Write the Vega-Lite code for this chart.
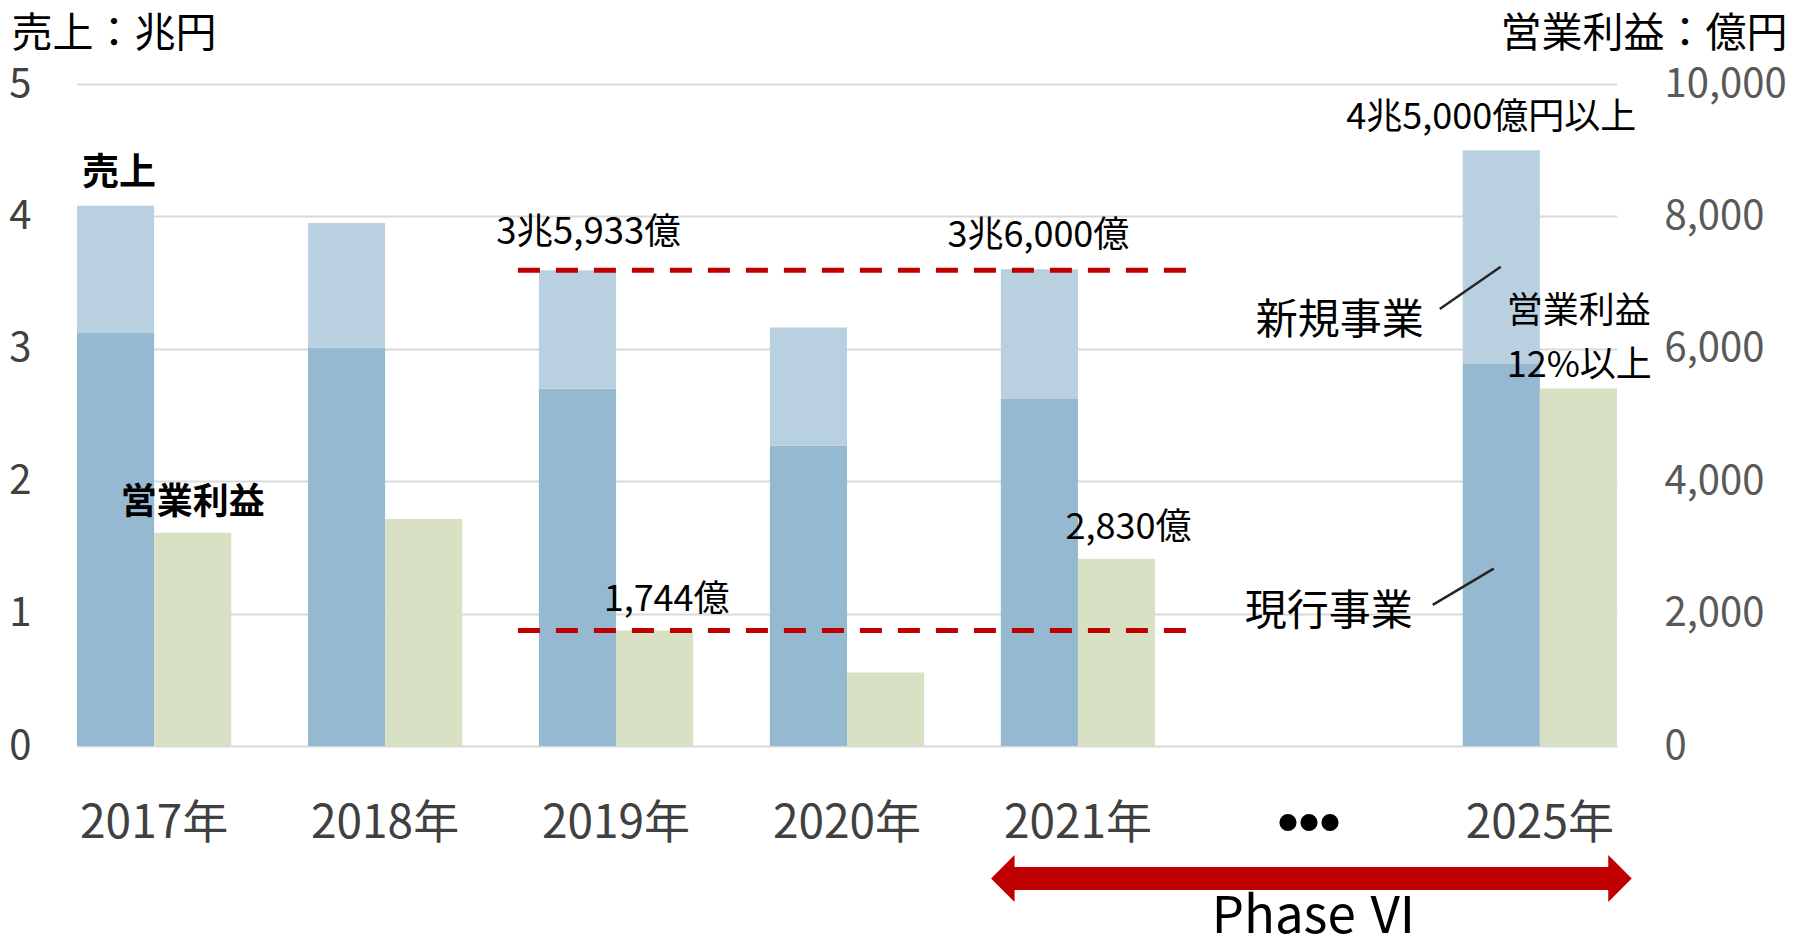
{
  "$schema": "https://vega.github.io/schema/vega-lite/v6.json",
  "width": 1540,
  "height": 662,
  "autosize": {"type": "none"},
  "padding": {"left": 77, "top": 84, "right": 176, "bottom": 204},
  "background": "#ffffff",
  "config": {
    "font": "Noto Sans CJK JP",
    "view": {"stroke": null},
    "text": {"font": "Noto Sans CJK JP", "color": "#000000", "baseline": "middle"}
  },
  "datasets": {
    "sales": [
      {"year": "2017年", "series": "売上", "segment": "現行事業", "value": 3.12},
      {"year": "2017年", "series": "売上", "segment": "新規事業", "value": 0.96},
      {"year": "2018年", "series": "売上", "segment": "現行事業", "value": 3.01},
      {"year": "2018年", "series": "売上", "segment": "新規事業", "value": 0.94},
      {"year": "2019年", "series": "売上", "segment": "現行事業", "value": 2.70},
      {"year": "2019年", "series": "売上", "segment": "新規事業", "value": 0.8933},
      {"year": "2020年", "series": "売上", "segment": "現行事業", "value": 2.27},
      {"year": "2020年", "series": "売上", "segment": "新規事業", "value": 0.89},
      {"year": "2021年", "series": "売上", "segment": "現行事業", "value": 2.62},
      {"year": "2021年", "series": "売上", "segment": "新規事業", "value": 0.98},
      {"year": "2025年", "series": "売上", "segment": "現行事業", "value": 2.885},
      {"year": "2025年", "series": "売上", "segment": "新規事業", "value": 1.615}
    ],
    "profit": [
      {"year": "2017年", "series": "営業利益", "value": 3220},
      {"year": "2018年", "series": "営業利益", "value": 3430},
      {"year": "2019年", "series": "営業利益", "value": 1744},
      {"year": "2020年", "series": "営業利益", "value": 1110},
      {"year": "2021年", "series": "営業利益", "value": 2830},
      {"year": "2025年", "series": "営業利益", "value": 5400}
    ],
    "salesLine": [{"from": "2019年", "to": "2021年", "value": 3.5933}],
    "profitLine": [{"from": "2019年", "to": "2021年", "value": 1744}],
    "total2019": [{"year": "2019年", "label": "3兆5,933億", "value": 3.5933}],
    "total2021": [{"year": "2021年", "label": "3兆6,000億", "value": 3.6}],
    "targetLabel": [{"year": "2025年", "label": "4兆5,000億円以上", "value": 4.5}],
    "salesTag": [{"year": "2017年", "label": "売上", "value": 4.08}],
    "newTag": [{"year": "2025年", "label": "新規事業", "value": 3.21}],
    "curTag": [{"year": "2025年", "label": "現行事業", "value": 1.01}],
    "newLeader": [{"year": "2025年", "y1": 3.30, "y2": 3.62}],
    "curLeader": [{"year": "2025年", "y1": 1.066, "y2": 1.34}],
    "marginTag": [
      {"year": "2025年", "label": "営業利益", "value": 3.28},
      {"year": "2025年", "label": "12%以上", "value": 2.87}
    ],
    "phase": [{"from": "2021年", "to": "2025年", "value": -1.0}],
    "phaseLabel": [{"year": "•••", "label": "Phase Ⅵ", "value": -1.3}],
    "profitLabels": [
      {"year": "2019年", "label": "1,744億", "value": 1744},
      {"year": "2021年", "label": "2,830億", "value": 2830}
    ],
    "profitTag": [{"year": "2017年", "label": "営業利益", "value": 3220}]
  },
  "layer": [
    {
      "data": {"name": "sales"},
      "mark": {"type": "bar"},
      "encoding": {
        "x": {
          "field": "year", "type": "nominal", "sort": null,
          "scale": {"domain": ["2017年", "2018年", "2019年", "2020年", "2021年", "•••", "2025年"], "paddingInner": 0.332, "paddingOuter": 0},
          "axis": {
            "title": null, "labelAngle": 0, "domain": false, "ticks": false, "grid": false,
            "labelOverlap": false, "labelBound": false,
            "labelFontSize": {"condition": {"test": "datum.value === '•••'", "value": 60}, "value": 46},
            "labelFont": {"condition": {"test": "datum.value === '•••'", "value": "Liberation Sans"}, "value": "Noto Sans CJK JP"},
            "labelFontWeight": {"condition": {"test": "datum.value === '•••'", "value": "bold"}, "value": "normal"},
            "labelColor": {"condition": {"test": "datum.value === '•••'", "value": "#000000"}, "value": "#404040"},
            "labelPadding": 77, "labelBaseline": "middle"
          }
        },
        "xOffset": {"field": "series", "type": "nominal", "scale": {"domain": ["売上", "営業利益"], "paddingInner": 0, "paddingOuter": 0}},
        "y": {
          "field": "value", "type": "quantitative", "stack": "zero",
          "scale": {"domain": [0, 5], "nice": false},
          "axis": {
            "title": "売上：兆円", "values": [0, 1, 2, 3, 4, 5],
            "grid": true, "gridColor": "#D9D9D9", "gridWidth": 2,
            "domain": false, "ticks": false,
            "labelFontSize": 40, "labelColor": "#404040", "labelPadding": 46,
            "titleAngle": 0, "titleX": -66, "titleY": -50, "titleAlign": "left", "titleBaseline": "middle",
            "titleFontSize": 41, "titleFontWeight": "normal", "titleColor": "#000000"
          }
        },
        "color": {"field": "segment", "type": "nominal", "scale": {"domain": ["現行事業", "新規事業"], "range": ["#95B9D1", "#B9D0E0"]}, "legend": null},
        "order": {"field": "segment", "sort": "descending"}
      }
    },
    {
      "data": {"name": "profit"},
      "mark": {"type": "bar", "color": "#D8E1C3"},
      "encoding": {
        "x": {"field": "year", "type": "nominal"},
        "xOffset": {"field": "series", "type": "nominal"},
        "y": {
          "field": "value", "type": "quantitative",
          "scale": {"domain": [0, 10000], "nice": false},
          "axis": {
            "orient": "right", "title": "営業利益：億円", "values": [0, 2000, 4000, 6000, 8000, 10000], "format": ",d",
            "grid": false, "domain": false, "ticks": false,
            "labelFontSize": 40, "labelColor": "#595959", "labelPadding": 47,
            "titleAngle": 0, "titleX": 170, "titleY": -50, "titleAlign": "right", "titleBaseline": "middle",
            "titleFontSize": 41, "titleFontWeight": "normal", "titleColor": "#000000"
          }
        }
      }
    },
    {
      "data": {"name": "salesLine"},
      "mark": {"type": "rule", "color": "#C00000", "strokeWidth": 5, "strokeDash": [22, 16], "xOffset": -21, "x2Offset": 32},
      "encoding": {
        "x": {"field": "from", "type": "nominal", "bandPosition": 0},
        "x2": {"field": "to", "bandPosition": 1},
        "y": {"field": "value", "type": "quantitative", "scale": {"domain": [0, 5], "nice": false}, "axis": null}
      }
    },
    {
      "data": {"name": "profitLine"},
      "mark": {"type": "rule", "color": "#C00000", "strokeWidth": 5, "strokeDash": [22, 16], "xOffset": -21, "x2Offset": 32},
      "encoding": {
        "x": {"field": "from", "type": "nominal", "bandPosition": 0},
        "x2": {"field": "to", "bandPosition": 1},
        "y": {"field": "value", "type": "quantitative", "scale": {"domain": [0, 10000], "nice": false}, "axis": null}
      }
    },
    {
      "data": {"name": "total2019"},
      "mark": {"type": "text", "fontSize": 36.5, "dx": 11, "dy": -37, "align": "center"},
      "encoding": {
        "x": {"field": "year", "type": "nominal", "bandPosition": 0.25},
        "y": {"field": "value", "type": "quantitative", "scale": {"domain": [0, 5], "nice": false}, "axis": null},
        "text": {"field": "label"}
      }
    },
    {
      "data": {"name": "total2021"},
      "mark": {"type": "text", "fontSize": 36, "dx": -1, "dy": -33, "align": "center"},
      "encoding": {
        "x": {"field": "year", "type": "nominal", "bandPosition": 0.25},
        "y": {"field": "value", "type": "quantitative", "scale": {"domain": [0, 5], "nice": false}, "axis": null},
        "text": {"field": "label"}
      }
    },
    {
      "data": {"name": "targetLabel"},
      "mark": {"type": "text", "fontSize": 36, "dx": -10, "dy": -32, "align": "center"},
      "encoding": {
        "x": {"field": "year", "type": "nominal", "bandPosition": 0.25},
        "y": {"field": "value", "type": "quantitative", "scale": {"domain": [0, 5], "nice": false}, "axis": null},
        "text": {"field": "label"}
      }
    },
    {
      "data": {"name": "salesTag"},
      "mark": {"type": "text", "fontSize": 37, "fontWeight": "bold", "dx": 5, "dy": -32, "align": "left"},
      "encoding": {
        "x": {"field": "year", "type": "nominal", "bandPosition": 0},
        "y": {"field": "value", "type": "quantitative", "scale": {"domain": [0, 5], "nice": false}, "axis": null},
        "text": {"field": "label"}
      }
    },
    {
      "data": {"name": "newTag"},
      "mark": {"type": "text", "fontSize": 42, "dx": -39, "align": "right"},
      "encoding": {
        "x": {"field": "year", "type": "nominal", "bandPosition": 0},
        "y": {"field": "value", "type": "quantitative", "scale": {"domain": [0, 5], "nice": false}, "axis": null},
        "text": {"field": "label"}
      }
    },
    {
      "data": {"name": "curTag"},
      "mark": {"type": "text", "fontSize": 42, "dx": -50, "align": "right"},
      "encoding": {
        "x": {"field": "year", "type": "nominal", "bandPosition": 0},
        "y": {"field": "value", "type": "quantitative", "scale": {"domain": [0, 5], "nice": false}, "axis": null},
        "text": {"field": "label"}
      }
    },
    {
      "data": {"name": "newLeader"},
      "mark": {"type": "rule", "color": "#262626", "strokeWidth": 2.5, "xOffset": -23, "x2Offset": 38},
      "encoding": {
        "x": {"field": "year", "type": "nominal", "bandPosition": 0},
        "x2": {"field": "year", "bandPosition": 0},
        "y": {"field": "y1", "type": "quantitative", "scale": {"domain": [0, 5], "nice": false}, "axis": null},
        "y2": {"field": "y2"}
      }
    },
    {
      "data": {"name": "curLeader"},
      "mark": {"type": "rule", "color": "#262626", "strokeWidth": 2.5, "xOffset": -30, "x2Offset": 31},
      "encoding": {
        "x": {"field": "year", "type": "nominal", "bandPosition": 0},
        "x2": {"field": "year", "bandPosition": 0},
        "y": {"field": "y1", "type": "quantitative", "scale": {"domain": [0, 5], "nice": false}, "axis": null},
        "y2": {"field": "y2"}
      }
    },
    {
      "data": {"name": "marginTag"},
      "mark": {"type": "text", "fontSize": 36, "dx": 44, "align": "left"},
      "encoding": {
        "x": {"field": "year", "type": "nominal", "bandPosition": 0},
        "y": {"field": "value", "type": "quantitative", "scale": {"domain": [0, 5], "nice": false}, "axis": null},
        "text": {"field": "label"}
      }
    },
    {
      "data": {"name": "phase"},
      "mark": {"type": "rule", "color": "#C00000", "strokeWidth": 23, "strokeCap": "butt", "xOffset": 12, "x2Offset": -8},
      "encoding": {
        "x": {"field": "from", "type": "nominal", "bandPosition": 0},
        "x2": {"field": "to", "bandPosition": 1},
        "y": {"field": "value", "type": "quantitative", "scale": {"domain": [0, 5], "nice": false}, "axis": null}
      }
    },
    {
      "data": {"name": "phase"},
      "mark": {"type": "point", "shape": "M-0.5,0L0.5,-1L0.5,1Z", "size": 2209, "filled": true, "color": "#C00000", "opacity": 1, "strokeWidth": 0, "xOffset": 2},
      "encoding": {
        "x": {"field": "from", "type": "nominal", "bandPosition": 0},
        "y": {"field": "value", "type": "quantitative", "scale": {"domain": [0, 5], "nice": false}, "axis": null}
      }
    },
    {
      "data": {"name": "phase"},
      "mark": {"type": "point", "shape": "M0.5,0L-0.5,-1L-0.5,1Z", "size": 2209, "filled": true, "color": "#C00000", "opacity": 1, "strokeWidth": 0, "xOffset": 3},
      "encoding": {
        "x": {"field": "to", "type": "nominal", "bandPosition": 1},
        "y": {"field": "value", "type": "quantitative", "scale": {"domain": [0, 5], "nice": false}, "axis": null}
      }
    },
    {
      "data": {"name": "phaseLabel"},
      "mark": {"type": "text", "fontSize": 51, "dx": 6, "align": "center"},
      "encoding": {
        "x": {"field": "year", "type": "nominal", "bandPosition": 0.5},
        "y": {"field": "value", "type": "quantitative", "scale": {"domain": [0, 5], "nice": false}, "axis": null},
        "text": {"field": "label"}
      }
    },
    {
      "data": {"name": "profitLabels"},
      "mark": {"type": "text", "fontSize": 36, "dx": 12, "dy": -31, "align": "center"},
      "encoding": {
        "x": {"field": "year", "type": "nominal", "bandPosition": 0.75},
        "y": {"field": "value", "type": "quantitative", "scale": {"domain": [0, 10000], "nice": false}, "axis": null},
        "text": {"field": "label"}
      }
    },
    {
      "data": {"name": "profitTag"},
      "mark": {"type": "text", "fontSize": 36, "fontWeight": "bold", "dy": -30, "align": "center"},
      "encoding": {
        "x": {"field": "year", "type": "nominal", "bandPosition": 0.75},
        "y": {"field": "value", "type": "quantitative", "scale": {"domain": [0, 10000], "nice": false}, "axis": null},
        "text": {"field": "label"}
      }
    }
  ],
  "resolve": {"scale": {"y": "independent"}}
}
